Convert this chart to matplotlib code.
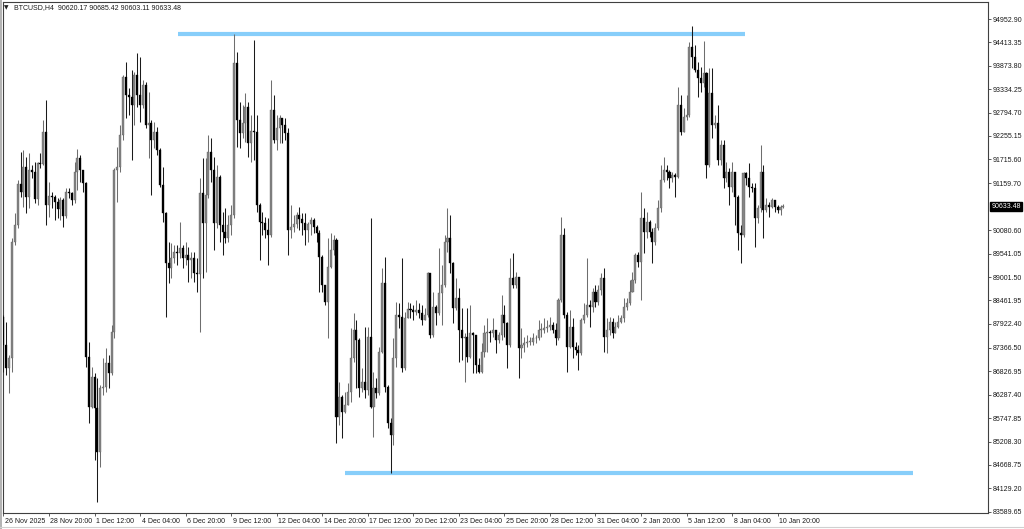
import matplotlib
matplotlib.use('Agg')
import matplotlib.pyplot as plt
from matplotlib import font_manager as fm
from matplotlib import transforms as mtrans
import numpy as np

# ---------------- data ----------------
symbol = "BTCUSD,H4"
header_ohlc = ["90620.17", "90685.42", "90603.11", "90633.48"]
first_open = 88088

closes = [
    87434, 86896, 87127, 89817, 90202, 91140, 90971, 91547, 90855, 91470,
    91432, 90801, 91624, 91601, 92354, 90663, 90878, 90855, 90740, 90571,
    90778, 90417, 90971, 90932, 90778, 91432, 91755, 91470, 91163, 87165,
    86012, 86704, 85989, 84959, 86435, 86473, 87011, 86780, 87742, 91470,
    91547, 92278, 93623, 93200, 93162, 92969, 93661, 93200, 92969, 93431,
    92508, 92547, 92162, 92354, 91932, 91124, 90471, 89318, 89202, 89433,
    89587, 89548, 89664, 89433, 89510, 89395, 89433, 89087, 89064, 90932,
    90240, 90894, 91893, 91470, 90240, 91317, 90202, 90048, 89894, 90202,
    90432, 93930, 92623, 92316, 92547, 92931, 92085, 92370, 92354, 90663,
    90279, 90240, 90087, 89971, 92854, 92162, 92431, 92662, 92508, 92316,
    90087, 90163, 90217, 90432, 90340, 90240, 90087, 90217, 90317, 90163,
    90010, 89472, 88818, 88434, 89241, 89625, 89856, 85781, 86243, 85897,
    86050, 86358, 87127, 87780, 87550, 86435, 86588, 86396, 87627, 86012,
    86435, 86320, 87281, 88856, 86473, 85628, 85359, 87127, 88126, 88088,
    86896, 88050, 88265, 88242, 88203, 88242, 88165, 88011, 88126, 89087,
    87665, 88318, 88165, 88626, 88818, 89817, 89910, 89318, 88280, 88511,
    87780, 87588, 87627, 87165, 87703, 87665, 86973, 86819, 87281, 87703,
    87742, 87703, 87780, 87550, 87665, 88126, 87934, 87434, 88972, 88818,
    89010, 87357, 87434, 87473, 87511, 87511, 87588, 87588, 87780, 87780,
    87819, 87857, 87896, 87780, 87588, 88472, 89971, 88126, 87396, 87857,
    87396, 87319, 87242, 88011, 88126, 88357, 88318, 88664, 88434, 88703,
    88972, 87627, 87780, 87973, 87703, 87857, 87973, 88050, 88318, 88395,
    88664, 88933, 89510, 89356, 90356, 90048, 90279, 90048, 89817, 90125,
    90586, 91240, 91470, 91432, 91278, 91355, 91317, 92969, 92354, 92700,
    92739, 94315, 94084, 93777, 93585, 93469, 93700, 91586, 93238, 92508,
    92547, 91701, 92047, 91278, 91432, 91086, 91432, 90855, 90010, 89971,
    91393, 91278, 91086, 91048, 90356, 90586, 91432, 90548, 90663, 90625,
    90778, 90625, 90548, 90620.17, 90633.48,
]

highs = [
    88126, 87973, 87204, 89894, 90471, 91240, 91893, 91932, 91778, 91855,
    91586, 91662, 91662, 91855, 92623, 93085, 91201, 90971, 90894, 90817,
    90855, 90817, 91048, 91048, 90971, 91662, 91955, 91816, 91355, 91201,
    87511, 86934, 86780, 86665, 86512, 87127, 87357, 87204, 87896, 91509,
    92008, 92508, 93661, 93969, 93354, 93777, 93738, 94161, 94084, 93546,
    93508, 93277, 92623, 92585, 92470, 91970, 91547, 90509, 89817, 89779,
    89741, 89741, 90279, 89741, 89817, 89702, 89587, 89587, 89433, 91278,
    91739, 91739, 92278, 92201, 91778, 91586, 91355, 90509, 90586, 90432,
    90663, 94599, 94199, 93046, 92969, 93238, 93046, 92739, 94469, 92739,
    90701, 90509, 90394, 90356, 93546, 93200, 92739, 92739, 92662, 92662,
    92431, 90663, 90432, 90509, 90625, 90471, 90471, 90279, 90394, 90356,
    90202, 90087, 89510, 88818, 89894, 90010, 89971, 89894, 86588, 86281,
    86358, 86550, 87819, 88165, 88011, 87588, 86896, 87857, 87857, 90371,
    86819, 86665, 87396, 89202, 89472, 86512, 85743, 87588, 88434, 88395,
    89433, 88203, 88434, 88395, 88357, 88472, 88395, 88357, 88280, 89126,
    89010, 88664, 88357, 89664, 89279, 89971, 90602, 90432, 89356, 88972,
    88741, 88280, 87703, 88280, 88357, 87742, 87665, 87127, 87473, 87896,
    88050, 87780, 88050, 87780, 87742, 88587, 88357, 87973, 89433, 89564,
    89126, 89010, 87819, 87627, 87665, 87627, 87703, 87665, 88011, 87934,
    88050, 88011, 88088, 87973, 87934, 88511, 90394, 90125, 88203, 88242,
    88050, 87511, 87434, 88050, 88395, 89433, 88472, 88741, 88818, 88818,
    89087, 89202, 88050, 88088, 88050, 87973, 88126, 88126, 88511, 88511,
    88933, 89126, 89548, 89587, 90971, 90586, 90509, 90317, 90125, 90240,
    90778, 91586, 91778, 91586, 91470, 91432, 91393, 93392, 93200, 92892,
    93200, 94430, 94791, 94353, 93969, 93854, 94445, 93738, 93815, 93815,
    92739, 92969, 92162, 92162, 91662, 91509, 91662, 91201, 90894, 90202,
    91432, 91432, 91624, 91163, 91163, 90663, 92047, 91586, 90817, 90740,
    90817, 90778, 90663, 90660, 90685.42,
]

lows = [
    86819, 86742, 86320, 86819, 89741, 90125, 90855, 90625, 90471, 90586,
    91278, 90701, 90663, 91509, 91586, 90202, 90394, 90586, 90317, 90356,
    90317, 90163, 90356, 90817, 90663, 90701, 91009, 91201, 90971, 86934,
    85628, 85974, 84782, 83821, 84628, 86281, 86358, 86435, 86742, 87588,
    90740, 91432, 92162, 92662, 92739, 91701, 92508, 92931, 92585, 92892,
    92431, 91739, 90894, 91970, 91816, 91086, 90279, 88088, 88856, 88972,
    89318, 89279, 89433, 89202, 89279, 88895, 88972, 88895, 88664, 87742,
    88972, 89126, 90817, 91201, 89625, 90125, 89817, 89510, 89779, 89817,
    89971, 90356, 92008, 91970, 92201, 92124, 91778, 91662, 91701, 90509,
    89395, 89971, 89894, 89279, 89933, 92085, 91932, 92085, 92085, 92162,
    89510, 89894, 90048, 90125, 90087, 89971, 89741, 89817, 89971, 90010,
    89817, 88664, 88664, 88357, 87588, 89202, 89510, 85166, 85589, 85282,
    85858, 86050, 86127, 87050, 86435, 86243, 86358, 86204, 86281, 85974,
    85320, 86204, 86281, 87242, 86358, 85512, 84474, 85128, 86934, 87819,
    86819, 86857, 88126, 88050, 88011, 88126, 88050, 87896, 88050, 88088,
    87588, 87627, 87896, 88126, 87896, 88779, 89587, 89087, 87934, 88242,
    87050, 87088, 86588, 87050, 87127, 86780, 86780, 86780, 86780, 87165,
    87281, 87511, 87627, 87242, 87473, 87550, 87627, 86896, 87396, 88741,
    88741, 86665, 87127, 87281, 87396, 87434, 87434, 87473, 87550, 87627,
    87703, 87742, 87780, 87703, 87434, 87550, 88434, 88050, 86819, 87357,
    87127, 87204, 86857, 87204, 87934, 88088, 87857, 88203, 88318, 88357,
    88587, 87281, 87242, 87665, 87588, 87703, 87819, 87934, 87973, 88242,
    88357, 88664, 88856, 89241, 88472, 89548, 89894, 89933, 89318, 89741,
    90087, 90509, 91201, 91240, 91048, 91201, 90855, 91278, 92278, 92393,
    92623, 92700, 93815, 93738, 93162, 93277, 93392, 91278, 91547, 92201,
    92431, 91586, 91586, 91048, 91201, 90663, 90971, 90202, 89625, 89318,
    89933, 91124, 90855, 90971, 89702, 90240, 90509, 89894, 90509, 90394,
    90586, 90509, 90471, 90432, 90603.11,
]

# horizontal support / resistance lines: level, start bar, end bar
line_levels = [94607, 84471]
line_start_bars = [61.4, 120.0]
line_end_bars = [260.7, 319.6]

date_labels = ["26 Nov 2025", "28 Nov 20:00", "1 Dec 12:00", "4 Dec 04:00",
               "6 Dec 20:00", "9 Dec 12:00", "12 Dec 04:00", "14 Dec 20:00",
               "17 Dec 12:00", "20 Dec 12:00", "23 Dec 04:00", "25 Dec 20:00",
               "28 Dec 12:00", "31 Dec 04:00", "2 Jan 20:00", "5 Jan 12:00",
               "8 Jan 04:00", "10 Jan 20:00"]
date_label_bars = list(range(0, 273, 16))

price_labels = ["94952.90", "94413.35", "93873.80", "93334.25", "92794.70",
                "92255.15", "91715.60", "91159.70", "90080.60", "89541.05",
                "89001.50", "88461.95", "87922.40", "87366.50", "86826.95",
                "86287.40", "85747.85", "85208.30", "84668.75", "84129.20",
                "83589.65"]
last_price = 90633.48

# ---------------- fonts ----------------
names = {f.name for f in fm.fontManager.ttflist}
if 'Liberation Sans Narrow' in names:
    FONT, FS = 'Liberation Sans Narrow', 5.6
else:
    FONT, FS = 'Liberation Sans', 5.0
plt.rcParams['font.family'] = [FONT, 'DejaVu Sans']

# ---------------- figure ----------------
W, H = 1024, 529
fig = plt.figure(figsize=(W / 100, H / 100), dpi=100)
fig.patch.set_facecolor('white')
ax = fig.add_axes([3 / W, 16 / H, 985 / W, 511 / H])
ax.set_facecolor('white')

c = np.array(closes, dtype=float)
o = np.concatenate([[first_open], c[:-1]])
h = np.maximum.reduce([np.array(highs, float), o, c])
l = np.minimum.reduce([np.array(lows, float), o, c])
x = np.arange(len(c))

up = c >= o
bull_body, bull_wick = '#858585', '#6e6e6e'
bear_body, bear_wick = '#000000', '#1a1a1a'

ax.vlines(x[up], l[up], h[up], color=bull_wick, lw=0.75, zorder=3)
ax.vlines(x[~up], l[~up], h[~up], color=bear_wick, lw=0.75, zorder=3)
body_lo = np.minimum(o, c)
body_h = np.maximum(np.abs(c - o), 18)
ax.bar(x[up], body_h[up], bottom=body_lo[up], width=0.72, color=bull_body,
       edgecolor='#5a5a5a', linewidth=0.25, zorder=4)
ax.bar(x[~up], body_h[~up], bottom=body_lo[~up], width=0.72, color=bear_body,
       edgecolor=bear_body, linewidth=0.25, zorder=4)

for lev, s, e in zip(line_levels, line_start_bars, line_end_bars):
    ax.plot([s, e], [lev, lev], color='#87cefa', lw=3.0, solid_capstyle='butt',
            zorder=2)

ax.set_xlim(-0.16, 345.9)
ax.set_ylim(83559.8, 95345.0)

# axes styling
for sp in ax.spines.values():
    sp.set_color('#404040')
    sp.set_linewidth(0.8)

ax.yaxis.tick_right()
ax.set_yticks([float(s) for s in price_labels])
ax.set_yticklabels(price_labels)
ax.tick_params(axis='y', direction='out', length=2.2, width=0.6, color='#404040',
               pad=1.2, labelsize=FS, labelcolor='#1a1a1a')
ax.set_xticks(date_label_bars)
ax.set_xticklabels(date_labels)
ax.tick_params(axis='x', direction='out', length=2.5, width=0.6, color='#404040',
               pad=1.0, labelsize=FS, labelcolor='#1a1a1a')
offset = mtrans.ScaledTranslation(1.5 / 100, 0, fig.dpi_scale_trans)
for lbl in ax.get_xticklabels():
    lbl.set_horizontalalignment('left')
    lbl.set_transform(lbl.get_transform() + offset)

# current price label
bt = mtrans.blended_transform_factory(ax.transAxes, ax.transData)
ax.text(1.0 + 3.5 / 985, last_price, f"{last_price:.2f}", transform=bt,
        ha='left', va='center', color='white', fontsize=FS, zorder=10,
        bbox=dict(boxstyle='square,pad=0.18', fc='black', ec='black'),
        clip_on=False)

# header
fig.text(4 / W, 1 - 7.5 / H, "\u25bc", fontsize=4.2, color='#202020',
         ha='left', va='center', family=['DejaVu Sans'])
fig.text(14 / W, 1 - 7.5 / H,
         symbol + "  " + " ".join(header_ohlc),
         fontsize=FS, color='#1a1a1a', ha='left', va='center')

# window edges
fig.add_artist(plt.Rectangle((0, 0), 2 / W, 1, transform=fig.transFigure,
                             fc='#b4b4b4', ec='none'))
fig.add_artist(plt.Line2D([0, 1], [2.5 / H, 2.5 / H], transform=fig.transFigure,
                          color='#d0d0d0', lw=0.8))

fig.savefig('out.png', dpi=100, facecolor='white')
